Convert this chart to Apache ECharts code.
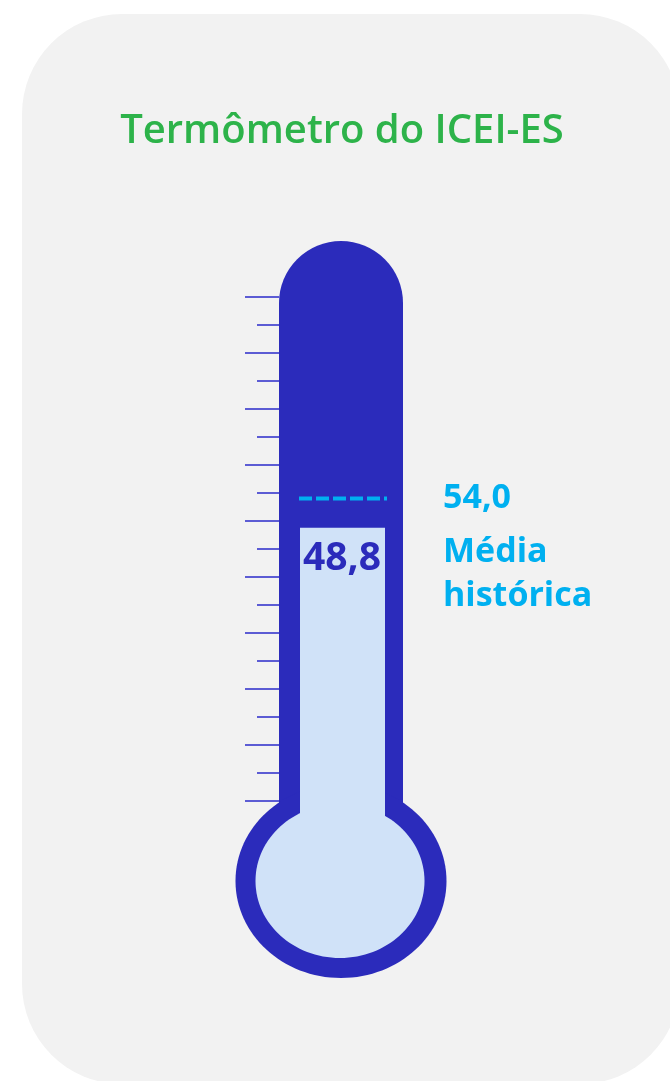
<!DOCTYPE html>
<html style="height: 100%">

<head>
    <meta charset="utf-8">
</head>

<body style="height: 100%; margin: 0; background: #ffffff">
    <div id="container" style="width: 670px; height: 1081px">
    </div>

    <script src="https://cdn.jsdelivr.net/npm/echarts@6/dist/echarts.min.js" type="text/javascript"></script>

    <script type="text/javascript">
        // dados do termômetro
        var categories = ['ICEI-ES'];
        var iceiValues = [48.8];
        var historicalMean = [54.0];
        var scaleMax = 100;
        var majorTicks = [0, 10, 20, 30, 40, 50, 60, 70, 80, 90];
        var minorTicks = [5, 15, 25, 35, 45, 55, 65, 75, 85];

        var DARK = '#2b2bbb';
        var LIGHT = '#d0e2f8';
        var CYAN = '#00b0f0';
        var TICK = '#5c5cd4';
        var FONT = '"Open Sans", "Noto Sans", sans-serif';

        function fmt(v) {
            return v.toFixed(1).replace('.', ',');
        }

        var dom = document.getElementById('container');
        var myChart = echarts.init(dom);

        function renderItem(params, api) {
            var base = api.coord([api.value(0), 0]);
            var xc = base[0];
            var y0 = base[1];
            var yTop = api.coord([api.value(0), scaleMax])[1];
            var yVal = api.coord([api.value(0), api.value(1)])[1];
            var yMean = api.coord([api.value(0), api.value(2)])[1];
            var outerW = api.size([1, 0])[0];
            var innerW = 85;
            var bulbY = y0 + 80;

            return {
                type: 'group',
                children: [
                    {
                        type: 'rect',
                        shape: { x: xc - outerW / 2, y: yTop, width: outerW, height: bulbY - yTop, r: [outerW / 2, outerW / 2, 0, 0] },
                        style: { fill: DARK }
                    },
                    {
                        type: 'ellipse',
                        shape: { cx: xc, cy: bulbY, rx: 105.5, ry: 97 },
                        style: { fill: DARK }
                    },
                    {
                        type: 'ellipse',
                        shape: { cx: xc - 1, cy: bulbY, rx: 84.5, ry: 77 },
                        style: { fill: LIGHT }
                    },
                    {
                        type: 'rect',
                        shape: { x: xc - 41, y: yVal, width: innerW, height: bulbY - yVal },
                        style: { fill: LIGHT }
                    },
                    {
                        type: 'line',
                        shape: { x1: xc - 42, y1: yMean, x2: xc + 46, y2: yMean },
                        style: { stroke: CYAN, lineWidth: 4, lineDash: [13, 4] }
                    },
                    {
                        type: 'text',
                        style: {
                            text: fmt(api.value(1)), x: xc + 1, y: yVal + 31,
                            fill: DARK, font: 'bold 39px ' + FONT,
                            align: 'center', verticalAlign: 'middle'
                        }
                    },
                    {
                        type: 'text',
                        style: {
                            text: fmt(api.value(2)), x: xc + 102, y: yMean,
                            fill: CYAN, font: 'bold 34px ' + FONT,
                            align: 'left', verticalAlign: 'middle'
                        }
                    },
                    {
                        type: 'text',
                        style: {
                            text: 'Média\nhistórica', x: xc + 102, y: yMean + 32,
                            fill: CYAN, font: 'bold 34px ' + FONT, lineHeight: 44,
                            align: 'left', verticalAlign: 'top'
                        }
                    }
                ]
            };
        }

        var tickAxis = function (values, len) {
            return {
                type: 'value',
                min: 0,
                max: scaleMax,
                position: 'left',
                offset: 0,
                axisLine: { show: false },
                splitLine: { show: false },
                axisLabel: { show: false },
                axisTick: {
                    show: true,
                    customValues: values,
                    length: len,
                    lineStyle: { color: TICK, width: 2 }
                }
            };
        };

        var option = {
            animation: false,
            graphic: [
                {
                    type: 'rect',
                    z: -10,
                    shape: { x: 22, y: 14, width: 658, height: 1070, r: 100 },
                    style: { fill: '#f2f2f2' }
                }
            ],
            title: {
                text: 'Termômetro do ICEI-ES',
                left: 337,
                top: 107,
                textAlign: 'center',
                textStyle: {
                    color: '#2db34a',
                    fontSize: 40,
                    fontWeight: 600,
                    fontFamily: FONT
                }
            },
            grid: {
                left: 279,
                width: 124,
                top: 241,
                height: 560
            },
            xAxis: {
                type: 'category',
                data: categories,
                show: false
            },
            yAxis: [tickAxis(majorTicks, 34), tickAxis(minorTicks, 22)],
            series: [
                {
                    name: 'ICEI-ES',
                    type: 'custom',
                    renderItem: renderItem,
                    encode: { x: 0, y: 1 },
                    data: categories.map(function (c, i) {
                        return [i, iceiValues[i], historicalMean[i]];
                    })
                }
            ]
        };

        myChart.setOption(option);
    </script>
</body>

</html>
